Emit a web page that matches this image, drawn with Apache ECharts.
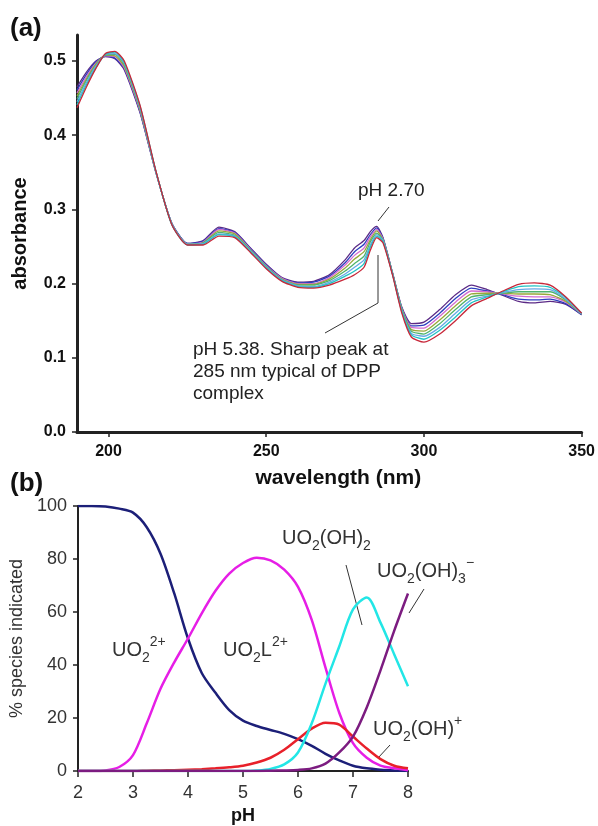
<!DOCTYPE html>
<html>
<head>
<meta charset="utf-8">
<script src="https://cdn.jsdelivr.net/npm/echarts@6/dist/echarts.min.js"></script>
<style>
html, body { margin: 0; padding: 0; background: #fff; }
#chart { width: 598px; height: 826px; }
</style>
</head>
<body>
<div id="chart"></div>
<script>
// panel (a): UV spectra, pH 2.70 -> 5.38
const wavelengths = [190,193,196,199,202,205,210,215,220,225,230,235,240,245,250,255,260,265,270,275,278,281,283,285,287,290,293,296,300,305,310,315,320,325,330,335,340,345,350]
const spec0 = [0.465,0.485,0.500,0.506,0.503,0.488,0.430,0.350,0.282,0.254,0.258,0.276,0.270,0.248,0.226,0.208,0.202,0.203,0.212,0.232,0.248,0.258,0.270,0.277,0.262,0.215,0.168,0.146,0.148,0.165,0.185,0.198,0.192,0.184,0.176,0.174,0.176,0.172,0.158]
const spec1 = [0.461,0.482,0.499,0.507,0.504,0.490,0.431,0.350,0.282,0.254,0.257,0.274,0.269,0.247,0.225,0.207,0.201,0.202,0.210,0.228,0.243,0.253,0.266,0.275,0.261,0.215,0.167,0.143,0.144,0.160,0.180,0.194,0.190,0.185,0.179,0.178,0.179,0.173,0.158]
const spec2 = [0.457,0.479,0.497,0.507,0.506,0.491,0.433,0.351,0.281,0.253,0.256,0.273,0.268,0.246,0.224,0.207,0.200,0.200,0.208,0.225,0.238,0.248,0.263,0.273,0.260,0.214,0.166,0.141,0.140,0.156,0.175,0.190,0.189,0.186,0.183,0.182,0.182,0.175,0.159]
const spec3 = [0.453,0.476,0.496,0.508,0.507,0.493,0.434,0.351,0.281,0.253,0.255,0.271,0.267,0.245,0.223,0.206,0.199,0.199,0.206,0.221,0.233,0.243,0.259,0.271,0.259,0.214,0.165,0.138,0.136,0.151,0.170,0.186,0.187,0.187,0.186,0.186,0.185,0.176,0.159]
const spec4 = [0.449,0.474,0.494,0.508,0.509,0.495,0.436,0.351,0.281,0.253,0.255,0.269,0.265,0.245,0.223,0.205,0.198,0.198,0.204,0.217,0.227,0.237,0.256,0.268,0.259,0.214,0.165,0.136,0.132,0.146,0.165,0.182,0.185,0.187,0.189,0.189,0.189,0.178,0.159]
const spec5 = [0.445,0.471,0.493,0.509,0.510,0.497,0.437,0.351,0.281,0.253,0.254,0.267,0.264,0.244,0.222,0.205,0.197,0.196,0.202,0.213,0.222,0.232,0.252,0.266,0.258,0.213,0.163,0.133,0.129,0.141,0.160,0.178,0.183,0.188,0.192,0.193,0.192,0.179,0.159]
const spec6 = [0.441,0.468,0.491,0.509,0.512,0.498,0.439,0.352,0.280,0.252,0.253,0.266,0.263,0.243,0.221,0.204,0.196,0.195,0.200,0.210,0.217,0.227,0.249,0.264,0.257,0.213,0.162,0.131,0.125,0.137,0.155,0.174,0.182,0.189,0.196,0.197,0.195,0.181,0.160]
const spec7 = [0.437,0.465,0.490,0.510,0.513,0.500,0.440,0.352,0.280,0.252,0.252,0.264,0.262,0.242,0.220,0.203,0.195,0.194,0.198,0.206,0.212,0.222,0.245,0.262,0.255,0.212,0.160,0.128,0.121,0.132,0.150,0.170,0.180,0.190,0.199,0.201,0.198,0.182,0.160]
const spectra = [spec0, spec1, spec2, spec3, spec4, spec5, spec6, spec7]
const wlTicks = [200, 250, 300, 350]
const absTicks = [0, 0.1, 0.2, 0.3, 0.4, 0.5]

// panel (b): species distribution
const pH = [2,2.25,2.5,2.75,3,3.25,3.5,3.75,4,4.25,4.5,4.75,5,5.25,5.5,5.75,6,6.25,6.5,6.75,7,7.25,7.5,7.75,8]
const uo2 = [100,100,99.8,99,97.5,92,82,67,50,37,29.5,23,19,17,15.5,14,12,9.5,6.5,4,2,1,0.5,0.2,0]
const uo2L = [0,0,0.2,1.5,6,18,31,41,50,59.5,68,74.5,78.5,80.5,79.5,76,69.5,57,39,22,10.5,5,2,1,0.3]
const uo2OH = [0,0,0,0,0,0.1,0.2,0.3,0.5,0.7,1,1.4,2,3.2,5,8,12,16,18.2,17.5,13,8.5,4.5,2,1]
const uo2OH2 = [0,0,0,0,0,0,0,0,0,0,0,0,0,0.2,0.8,2.5,7,18,33,47,61,65.5,56,44,32]
const uo2OH3 = [0,0,0,0,0,0,0,0,0,0,0,0,0,0,0.1,0.2,0.4,1,2.8,7,13,24,38,53,67]

const FONT = "'Liberation Sans', Arial, Helvetica, sans-serif"
const specColors = ['#5b2a86', '#2c3fbf', '#d46bd0', '#9aa83a', '#4fb36b', '#67a9e6', '#22c3c3', '#c8283a']

const myChart = echarts.init(document.getElementById('chart'))

let series = spectra.map((s, i) => ({
  type: 'line',
  xAxisIndex: 0,
  yAxisIndex: 0,
  smooth: 0.2,
  symbol: 'none',
  lineStyle: { width: 1.3, color: specColors[i] },
  data: wavelengths.map((w, j) => [w, s[j]])
}))

const species = [
  { data: uo2, color: '#1c1f78' },
  { data: uo2L, color: '#e61ee6' },
  { data: uo2OH, color: '#e8202a' },
  { data: uo2OH2, color: '#22e6e6' },
  { data: uo2OH3, color: '#7c1c80' }
]
species.forEach(sp => {
  series.push({
    type: 'line',
    xAxisIndex: 1,
    yAxisIndex: 1,
    smooth: 0.3,
    symbol: 'none',
    lineStyle: { width: 2.5, color: sp.color },
    data: pH.map((p, j) => [p, sp.data[j]])
  })
})

const rich = {
  m: { fontSize: 20, fontFamily: FONT, fill: '#333', lineHeight: 30, verticalAlign: 'middle' },
  b: { fontSize: 14, fontFamily: FONT, fill: '#333', lineHeight: 14, verticalAlign: 'bottom' },
  t: { fontSize: 14, fontFamily: FONT, fill: '#333', lineHeight: 14, verticalAlign: 'top' }
}
function chemText(left, top, text) {
  return { type: 'text', left: left, top: top, style: { text: text, rich: rich } }
}
function leader(points) {
  return { type: 'polyline', shape: { points: points }, style: { stroke: '#333', lineWidth: 1, fill: null } }
}

let option = {
  animation: false,
  textStyle: { fontFamily: FONT },
  grid: [
    { left: 77, right: 14, top: 35, bottom: 394 },
    { left: 78, right: 190, top: 506, bottom: 54 }
  ],
  xAxis: [
    {
      type: 'value', gridIndex: 0, min: 190, max: 350,
      name: 'wavelength (nm)', nameLocation: 'middle', nameGap: 36,
      nameTextStyle: { fontSize: 21, fontWeight: 'bold', color: '#111', padding: [0, 0, 0, 18] },
      axisLine: { show: true, lineStyle: { color: '#222', width: 3 } },
      axisTick: { show: true, length: 5, customValues: wlTicks, lineStyle: { color: '#222', width: 1.5 } },
      axisLabel: { customValues: wlTicks, fontSize: 16, fontWeight: 'bold', color: '#111', margin: 12 },
      splitLine: { show: false }
    },
    {
      type: 'value', gridIndex: 1, min: 2, max: 8, interval: 1,
      name: 'pH', nameLocation: 'middle', nameGap: 36,
      nameTextStyle: { fontSize: 18, fontWeight: 'bold', color: '#111' },
      axisLine: { show: true, lineStyle: { color: '#222', width: 2 } },
      axisTick: { show: true, length: 6, lineStyle: { color: '#222', width: 1.5 } },
      axisLabel: { fontSize: 18, color: '#333', margin: 13 },
      splitLine: { show: false }
    }
  ],
  yAxis: [
    {
      type: 'value', gridIndex: 0, min: 0, max: 0.535,
      name: 'absorbance', nameLocation: 'middle', nameGap: 47,
      nameTextStyle: { fontSize: 20, fontWeight: 'bold', color: '#111' },
      axisLine: { show: true, lineStyle: { color: '#222', width: 3 } },
      axisTick: { show: true, length: 5, customValues: absTicks, lineStyle: { color: '#222', width: 1.5 } },
      axisLabel: {
        customValues: absTicks, fontSize: 16, fontWeight: 'bold', color: '#111', margin: 11,
        formatter: v => v.toFixed(1)
      },
      splitLine: { show: false }
    },
    {
      type: 'value', gridIndex: 1, min: 0, max: 100, interval: 20,
      name: '% species indicated', nameLocation: 'middle', nameGap: 48,
      nameTextStyle: { fontSize: 18, color: '#333' },
      axisLine: { show: true, lineStyle: { color: '#222', width: 2 } },
      axisTick: { show: true, length: 5, lineStyle: { color: '#222', width: 1.5 } },
      axisLabel: { fontSize: 18, color: '#333', margin: 11 },
      splitLine: { show: false }
    }
  ],
  graphic: [
    { type: 'text', left: 10, top: 16, style: { text: '(a)', font: 'bold 26px ' + FONT, fill: '#111' } },
    { type: 'text', left: 10, top: 471, style: { text: '(b)', font: 'bold 26px ' + FONT, fill: '#111' } },
    { type: 'text', left: 358, top: 181, style: { text: 'pH 2.70', font: '19px ' + FONT, fill: '#222' } },
    leader([[389, 207], [378, 221]]),
    {
      type: 'text', left: 193, top: 339,
      style: { text: 'pH 5.38. Sharp peak at\n285 nm typical of DPP\ncomplex', font: '19px ' + FONT, fill: '#222', lineHeight: 22 }
    },
    leader([[325, 333], [378, 303], [378, 255]]),
    chemText(112, 635, '{m|UO}{b|2}{t|2+}'),
    chemText(223, 635, '{m|UO}{b|2}{m|L}{t|2+}'),
    chemText(282, 528, '{m|UO}{b|2}{m|(OH)}{b|2}'),
    leader([[346, 565], [362, 625]]),
    chemText(377, 556, '{m|UO}{b|2}{m|(OH)}{b|3}{t|\u2212}'),
    leader([[424, 589], [409, 613]]),
    chemText(373, 714, '{m|UO}{b|2}{m|(OH)}{t|+}'),
    leader([[390, 745], [378, 758]])
  ],
  series: series
}
myChart.setOption(option)
window.addEventListener('resize', function() {
  myChart.resize()
})
</script>
</body>
</html>
